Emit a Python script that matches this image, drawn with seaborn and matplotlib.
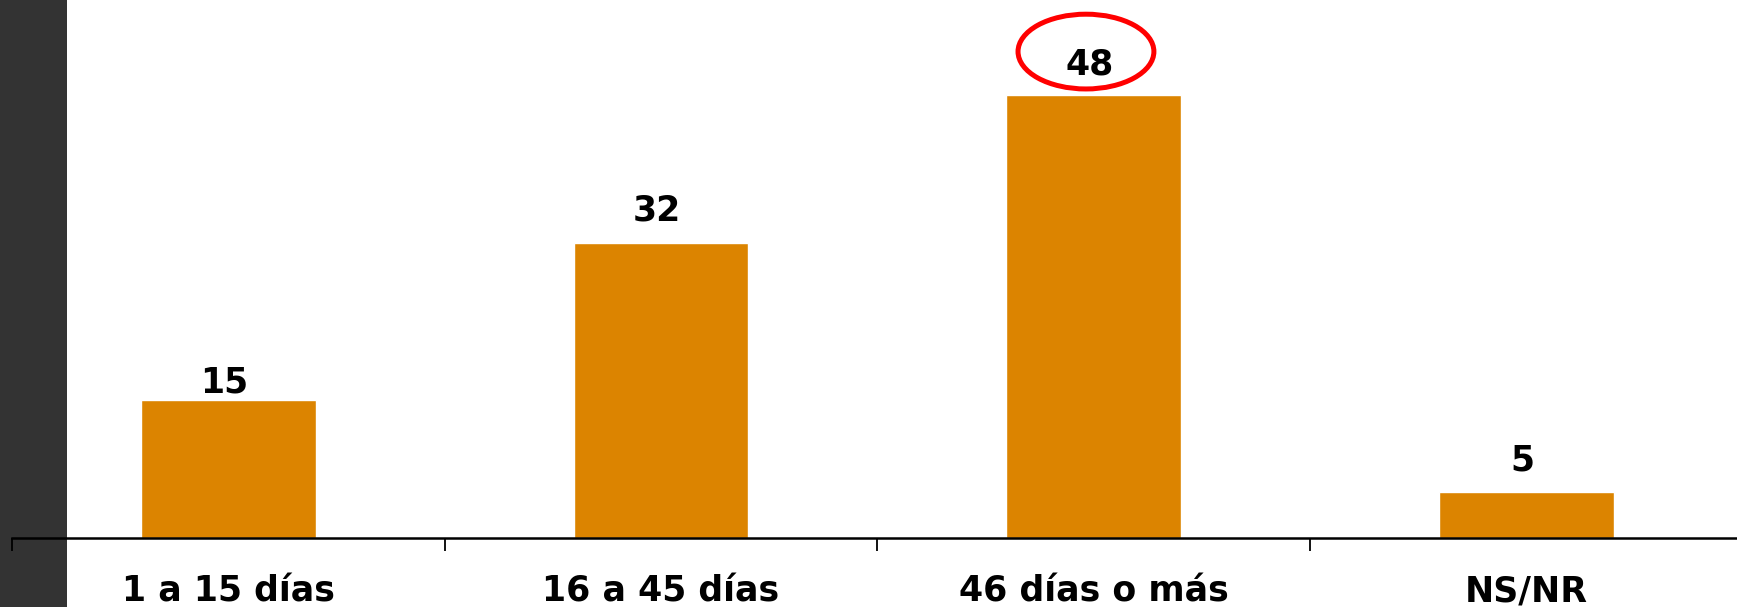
import matplotlib
matplotlib.use("Agg")
import matplotlib.pyplot as plt
from matplotlib.patches import Ellipse, Rectangle
import seaborn as sns
import pandas as pd

categories = ["1 a 15 días", "16 a 45 días", "46 días o más", "NS/NR"]
values = [15, 32, 48, 5]
label_offsets = [2.1, 3.7, 3.6, 3.7]   # gap between bar top and its value label centre
highlight_index = 2

BAR_COLOR = "#DC8400"
W, H, DPI = 1737, 607, 100

sns.set_theme(style="white")
plt.rcParams["font.family"] = ["DejaVu Sans"]

fig = plt.figure(figsize=(W / DPI, H / DPI), dpi=DPI, facecolor="white")

# dark band on the left edge, kept behind the axes
fig.patches.append(Rectangle((0, 0), 67 / W, 1, transform=fig.transFigure,
                             facecolor="#333333", edgecolor="none", zorder=-5))

axis_y = 538
cat_w = 432.7
px_per_unit = 9.23
ax = fig.add_axes([12 / W, (H - axis_y) / H, 4 * cat_w / W, axis_y / H])
ax.set_facecolor("none")
ax.set_zorder(1)

df = pd.DataFrame({"cat": categories, "val": values})
sns.barplot(data=df, x="cat", y="val", color=BAR_COLOR, saturation=1,
            width=0.404, ax=ax, zorder=2)

ax.set_xlim(-0.5, 3.5)
ax.set_ylim(0, axis_y / px_per_unit)
ax.set_xlabel("")
ax.set_ylabel("")
ax.set_yticks([])

for side in ("left", "right", "top"):
    ax.spines[side].set_visible(False)
ax.spines["bottom"].set_color("black")
ax.spines["bottom"].set_linewidth(1.8)
ax.spines["bottom"].set_zorder(3)

# category labels centred, boundary ticks between categories
ax.set_xticks(range(len(categories)))
ax.set_xticklabels(categories, fontsize=25, fontweight="bold", color="black")
ax.tick_params(axis="x", which="major", length=0, pad=26)
ax.set_xticks([i - 0.5 for i in range(len(categories) + 1)], minor=True)
ax.tick_params(axis="x", which="minor", length=9.5, width=1.3,
               color="black", direction="out", bottom=True)

# value labels: baseline sits half a cap height below the label centre
half_cap = 12.5 / px_per_unit
for i, (v, off) in enumerate(zip(values, label_offsets)):
    ax.text(i - 0.01, v + off - half_cap, f"{v}", ha="center", va="baseline",
            fontsize=25, fontweight="bold", color="black", zorder=4)

hv = values[highlight_index]
ax.add_patch(Ellipse((highlight_index - 0.018, hv + 4.7), 0.314, 8.1,
                     facecolor="none", edgecolor="#FF0000", linewidth=3.6,
                     zorder=5, clip_on=False))

fig.savefig("out.png", dpi=DPI, facecolor="white")
